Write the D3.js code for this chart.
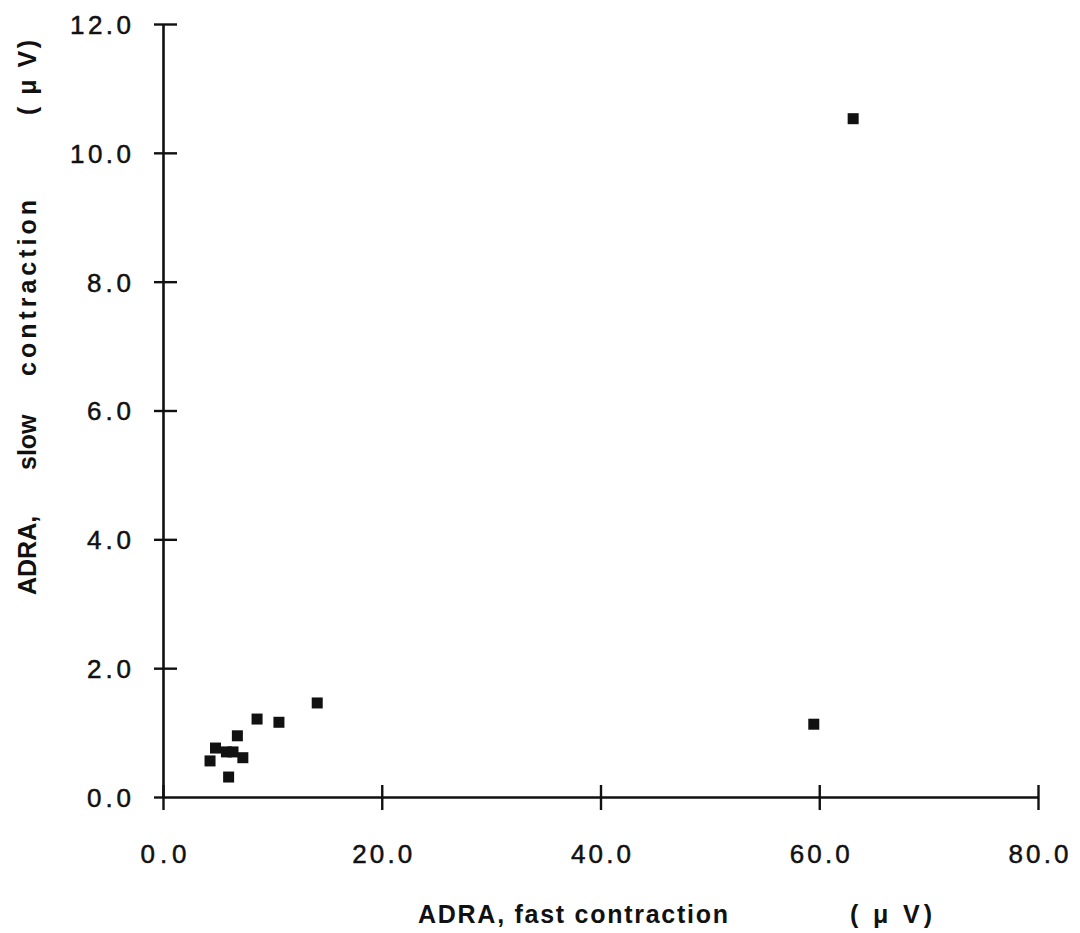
<!DOCTYPE html>
<html>
<head>
<meta charset="utf-8">
<script src="https://cdn.jsdelivr.net/npm/d3@7"></script>
<style>
  body { margin: 0; background: #fff; }
  svg text { font-family: "Liberation Sans", Arial, Helvetica, sans-serif; fill: #111; }
</style>
</head>
<body>
<script>
// ADRA values (microvolts)
var fastContraction = [4.3, 4.8, 5.8, 6.0, 6.4, 6.8, 7.3, 8.6, 10.6, 14.1, 59.5, 63.1];
var slowContraction = [0.56, 0.76, 0.70, 0.31, 0.70, 0.95, 0.61, 1.21, 1.16, 1.46, 1.13, 10.53];

var xTicks = [0, 20, 40, 60, 80];
var yTicks = [0, 2, 4, 6, 8, 10, 12];

var w = 1080;
var h = 933;
var markSize = 11;

var svg = d3.select("body")
  .append("svg")
  .attr("width", w)
  .attr("height", h);

var x = d3.scaleLinear().domain([0, 80]).range([163, 1038]);
var y = d3.scaleLinear().domain([0, 12]).range([797, 24]);

var dataset = fastContraction.map(function(d, i) {
  return { fast: d, slow: slowContraction[i] };
});

// x axis, ticks cross the line
var xAxis = svg.append("g")
  .attr("transform", "translate(0," + y(0) + ")")
  .call(d3.axisBottom(x).tickValues(xTicks).tickFormat(d3.format(".1f")).tickSizeOuter(0));

xAxis.select(".domain").attr("stroke", "#111").attr("stroke-width", 2.6);
xAxis.selectAll(".tick line")
  .attr("y1", -12).attr("y2", 13)
  .attr("stroke", "#111").attr("stroke-width", 2.4);
xAxis.selectAll(".tick text")
  .attr("y", 66)
  .attr("dy", 0)
  .attr("font-size", "26px")
  .attr("stroke", "#111")
  .attr("stroke-width", 0.5)
  .attr("textLength", function(d) { return d === 0 ? 46 : 60; })
  .attr("lengthAdjust", "spacing");

// y axis
var yAxis = svg.append("g")
  .attr("transform", "translate(" + x(0) + ",0)")
  .call(d3.axisLeft(y).tickValues(yTicks).tickFormat(d3.format(".1f")).tickSizeOuter(0));

yAxis.select(".domain").attr("stroke", "#111").attr("stroke-width", 2.6);
yAxis.selectAll(".tick line")
  .attr("x1", -9).attr("x2", 14)
  .attr("stroke", "#111").attr("stroke-width", 2.4);
yAxis.selectAll(".tick text")
  .attr("x", -32)
  .attr("dy", "0.36em")
  .attr("font-size", "26px")
  .attr("stroke", "#111")
  .attr("stroke-width", 0.5)
  .attr("textLength", function(d) { return d >= 10 ? 61 : 44; })
  .attr("lengthAdjust", "spacing");

yAxis.selectAll(".tick").filter(function(d) { return d === 0; }).select("line")
  .attr("x1", -9).attr("x2", 0);

// points
svg.selectAll("rect.pt")
  .data(dataset)
  .enter()
  .append("rect")
  .attr("class", "pt")
  .attr("x", function(d) { return x(d.fast) - markSize / 2; })
  .attr("y", function(d) { return y(d.slow) - markSize / 2; })
  .attr("width", markSize)
  .attr("height", markSize)
  .attr("fill", "#111");

// axis titles
svg.append("text")
  .attr("x", 418)
  .attr("y", 923)
  .attr("font-size", "25px")
  .attr("font-weight", "bold")
  .attr("textLength", 310)
  .attr("lengthAdjust", "spacing")
  .text("ADRA, fast contraction");

svg.append("text")
  .attr("x", 850)
  .attr("y", 923)
  .attr("font-size", "25px")
  .attr("font-weight", "bold")
  .attr("textLength", 82)
  .attr("lengthAdjust", "spacing")
  .text("( \u03bc V)");

var yTitle = svg.append("g")
  .attr("transform", "translate(36,0) rotate(-90)");

yTitle.append("text")
  .attr("x", -595)
  .attr("font-size", "25px")
  .attr("font-weight", "bold")
  .text("ADRA,");

yTitle.append("text")
  .attr("x", -470)
  .attr("font-size", "25px")
  .attr("font-weight", "bold")
  .text("slow");

yTitle.append("text")
  .attr("x", -376)
  .attr("font-size", "25px")
  .attr("font-weight", "bold")
  .attr("textLength", 176)
  .attr("lengthAdjust", "spacing")
  .text("contraction");

yTitle.append("text")
  .attr("x", -115)
  .attr("font-size", "25px")
  .attr("font-weight", "bold")
  .attr("textLength", 75)
  .attr("lengthAdjust", "spacing")
  .text("( \u03bc V)");
</script>
</body>
</html>
